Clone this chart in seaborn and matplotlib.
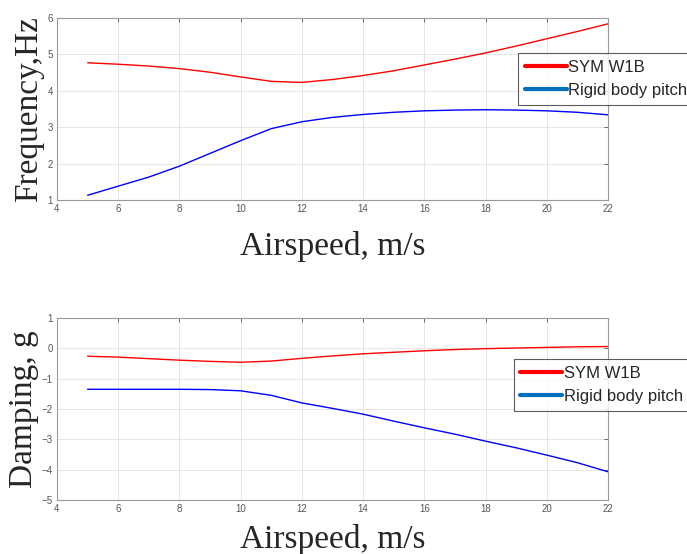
import numpy as np
import pandas as pd
import matplotlib
matplotlib.use("Agg")
import matplotlib.pyplot as plt
import seaborn as sns
from matplotlib.lines import Line2D

# data
airspeed = [5, 6, 7, 8, 9, 10, 11, 12, 13, 14, 15, 16, 17, 18, 19, 20, 21, 22]
freq_w1b = [4.77, 4.73, 4.68, 4.61, 4.51, 4.38, 4.26, 4.23, 4.31, 4.42, 4.55, 4.71, 4.87, 5.04, 5.23, 5.43, 5.63, 5.84]
freq_pitch = [1.13, 1.38, 1.63, 1.93, 2.28, 2.63, 2.96, 3.15, 3.27, 3.35, 3.41, 3.45, 3.47, 3.48, 3.47, 3.45, 3.41, 3.34]
damp_w1b = [-0.26, -0.29, -0.34, -0.39, -0.43, -0.46, -0.42, -0.33, -0.25, -0.18, -0.13, -0.08, -0.04, -0.01, 0.01, 0.03, 0.05, 0.06]
damp_pitch = [-1.35, -1.35, -1.35, -1.35, -1.36, -1.4, -1.55, -1.8, -1.98, -2.17, -2.4, -2.62, -2.83, -3.06, -3.28, -3.52, -3.77, -4.07]
series_names = ["SYM W1B", "Rigid body pitch"]

sns.set_style("white")
plt.rcParams['font.family'] = ['Liberation Sans', 'DejaVu Sans']

fig = plt.figure(figsize=(6.87, 5.54), dpi=100)
W, H = 687, 554
ax1 = fig.add_axes([57 / W, 1 - 200 / H, 551 / W, 182 / H])
ax2 = fig.add_axes([57 / W, 1 - 500 / H, 551 / W, 182 / H])

panels = [
    (ax1, freq_w1b, freq_pitch, (1, 6), "Frequency,Hz", (0.837, 0.808), 12),
    (ax2, damp_w1b, damp_pitch, (-5, 1), "Damping, g", (0.829, 0.775), 7),
]

for ax, red_vals, blue_vals, ylim, ylab, leg_pos, xpad in panels:
    df = pd.DataFrame({"x": airspeed * 2,
                       "y": red_vals + blue_vals,
                       "mode": [series_names[0]] * len(airspeed) + [series_names[1]] * len(airspeed)})
    sns.lineplot(data=df, x="x", y="y", hue="mode", palette=["#ff0000", "#0000ff"],
                 linewidth=1.0, ax=ax, legend=False)
    ax.set_xlim(4, 22)
    ax.set_ylim(*ylim)
    ax.set_xticks(range(4, 23, 2))
    ax.set_yticks(range(ylim[0], ylim[1] + 1))
    ax.grid(True, color="#e6e6e6", linewidth=0.7)
    ax.tick_params(direction="in", length=3, width=0.6, colors="#555555",
                   labelsize=7, top=True, right=True, pad=3)
    for sp in ax.spines.values():
        sp.set_color("#999999")
        sp.set_linewidth(0.8)
    ax.set_xlabel("Airspeed, m/s", family="Liberation Serif", fontsize=24, labelpad=xpad)
    ax.set_ylabel(ylab, family="Liberation Serif", fontsize=24, labelpad=2)

    handles = [Line2D([], [], color="#ff0000", linewidth=3),
               Line2D([], [], color="#0072bd", linewidth=3)]
    leg = ax.legend(handles, series_names, loc="upper left", bbox_to_anchor=leg_pos,
                    fontsize=12, frameon=True, fancybox=False, handlelength=2.5,
                    handletextpad=0.1, borderpad=0.4, labelspacing=0.5, borderaxespad=0)
    leg.get_frame().set_edgecolor("#333333")
    leg.get_frame().set_linewidth(0.8)

fig.savefig("out.png", dpi=100)
